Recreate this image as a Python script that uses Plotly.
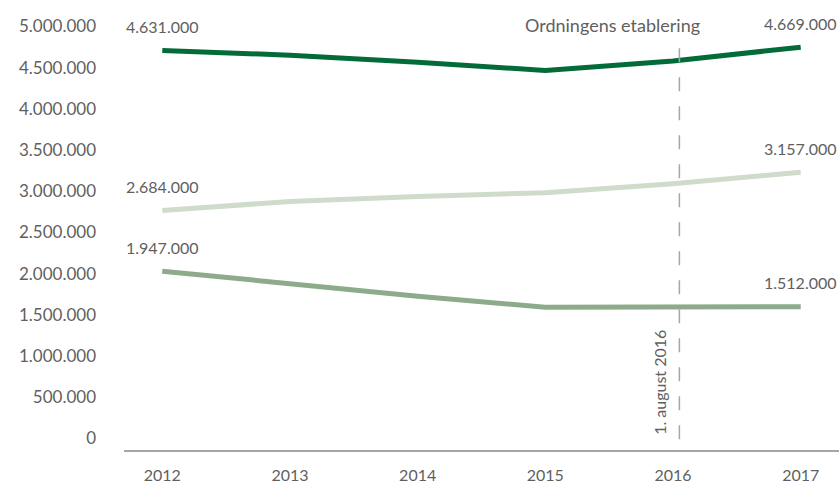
import plotly.graph_objects as go

years = [2012, 2013, 2014, 2015, 2016, 2017]
series_names = ["Serie 1", "Serie 2", "Serie 3"]
dark_values = [4709000, 4652000, 4567000, 4466000, 4581000, 4749000]
light_values = [2767000, 2876000, 2937000, 2982000, 3091000, 3232000]
mid_values = [2030000, 1875000, 1727000, 1593000, 1602000, 1598000]
# printed end labels
dark_labels = ["4.631.000", "4.669.000"]
light_labels = ["2.684.000", "3.157.000"]
mid_labels = ["1.947.000", "1.512.000"]
y_ticks = [0, 500000, 1000000, 1500000, 2000000, 2500000, 3000000, 3500000, 4000000, 4500000, 5000000]
y_tick_text = ["0", "500.000", "1.000.000", "1.500.000", "2.000.000", "2.500.000",
               "3.000.000", "3.500.000", "4.000.000", "4.500.000", "5.000.000"]
event_x = 2016.05
event_top = 4737000
event_label = "Ordningens etablering"
event_date = "1. august 2016"

colors = ["#036b38", "#cfdccc", "#8dab8a"]
TXT = "#5f5f5f"
FONT = "Lato"

fig = go.Figure()
for name, vals, col in zip(series_names, [dark_values, light_values, mid_values], colors):
    fig.add_trace(go.Scatter(x=years, y=vals, mode="lines", name=name,
                             line=dict(color=col, width=5), hoverinfo="skip"))

for vals, labs in [(dark_values, dark_labels), (light_values, light_labels), (mid_values, mid_labels)]:
    for xi, yi, t in [(years[0], vals[0], labs[0]), (years[-1], vals[-1], labs[1])]:
        fig.add_annotation(x=xi, y=yi, text=t, showarrow=False, yshift=24,
                           font=dict(family=FONT, size=16, color=TXT))

fig.add_shape(type="line", xref="x", yref="y", x0=event_x, x1=event_x,
              y0=event_top, y1=-140000, line=dict(color="#a6a6a6", width=1.5, dash="14px,15px"))
fig.add_annotation(x=event_x, y=5024000, xref="x", yref="y", text=event_label, showarrow=False,
                   xanchor="right", xshift=23, font=dict(family=FONT, size=18, color=TXT))
fig.add_annotation(x=event_x, y=680000, xref="x", yref="y", text=event_date, showarrow=False,
                   textangle=-90, xshift=-20, font=dict(family=FONT, size=16, color=TXT))

fig.update_layout(
    width=839, height=484, template="none",
    paper_bgcolor="white", plot_bgcolor="white",
    margin=dict(l=124, r=0, t=10, b=34),
    showlegend=False,
    font=dict(family=FONT, color=TXT),
    xaxis=dict(range=[2011.7, 2017.3], tickvals=years, ticktext=[str(y) for y in years],
               showgrid=False, zeroline=False, showline=True, linecolor="#a6a6a6", linewidth=1.5,
               ticks="", ticklabelstandoff=10, tickfont=dict(family=FONT, size=16, color=TXT),
               automargin=False),
    yaxis=dict(range=[-140000, 5200000], tickvals=y_ticks, ticktext=y_tick_text,
               showgrid=False, zeroline=False, showline=False, ticks="",
               ticklabelstandoff=27, tickfont=dict(family=FONT, size=17, color=TXT),
               automargin=False),
)

fig.write_html("out.html", config={"displayModeBar": False},
               post_script="document.body.style.margin='0';document.body.style.padding='0';document.body.style.overflow='hidden';")
